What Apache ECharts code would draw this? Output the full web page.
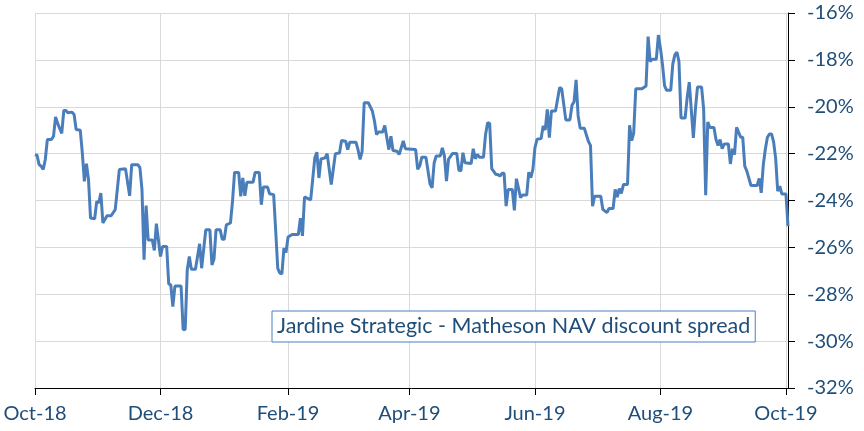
<!DOCTYPE html>
<html>
<head>
<meta charset="utf-8">
<script src="https://cdn.jsdelivr.net/npm/echarts@6/dist/echarts.min.js"></script>
<style>
  html, body { margin: 0; padding: 0; background: #fff; }
  #chart { width: 864px; height: 431px; }
</style>
</head>
<body>
<div id="chart"></div>
<script>
// discount spread
const dates = [
  '2018-10-01','2018-10-02','2018-10-03','2018-10-04','2018-10-05','2018-10-06','2018-10-07','2018-10-09','2018-10-10','2018-10-11',
  '2018-10-12','2018-10-14','2018-10-15','2018-10-16','2018-10-17','2018-10-19','2018-10-20','2018-10-21','2018-10-23','2018-10-24',
  '2018-10-25','2018-10-26','2018-10-27','2018-10-28','2018-10-30','2018-10-31','2018-11-01','2018-11-02','2018-11-03','2018-11-05',
  '2018-11-07','2018-11-09','2018-11-11','2018-11-14','2018-11-16','2018-11-17','2018-11-20','2018-11-21','2018-11-22','2018-11-23',
  '2018-11-24','2018-11-25','2018-11-27','2018-11-28','2018-11-29','2018-12-01','2018-12-02','2018-12-04','2018-12-05','2018-12-06',
  '2018-12-07','2018-12-08','2018-12-11','2018-12-12','2018-12-13','2018-12-14','2018-12-15','2018-12-16','2018-12-18','2018-12-20',
  '2018-12-21','2018-12-23','2018-12-25','2018-12-26','2018-12-27','2018-12-28','2018-12-30','2018-12-31','2019-01-01','2019-01-02',
  '2019-01-04','2019-01-05','2019-01-06','2019-01-08','2019-01-09','2019-01-10','2019-01-11','2019-01-12','2019-01-15','2019-01-16',
  '2019-01-18','2019-01-19','2019-01-20','2019-01-22','2019-01-23','2019-01-25','2019-01-26','2019-01-27','2019-01-28','2019-01-29',
  '2019-01-30','2019-01-31','2019-02-01','2019-02-03','2019-02-06','2019-02-07','2019-02-08','2019-02-09','2019-02-12','2019-02-14',
  '2019-02-15','2019-02-16','2019-02-17','2019-02-19','2019-02-20','2019-02-22','2019-02-24','2019-02-26','2019-02-27','2019-03-01',
  '2019-03-02','2019-03-03','2019-03-06','2019-03-07','2019-03-08','2019-03-09','2019-03-10','2019-03-12','2019-03-14','2019-03-15',
  '2019-03-16','2019-03-17','2019-03-19','2019-03-20','2019-03-22','2019-03-23','2019-03-24','2019-03-26','2019-03-27','2019-03-29',
  '2019-03-30','2019-04-04','2019-04-05','2019-04-06','2019-04-07','2019-04-09','2019-04-11','2019-04-12','2019-04-13','2019-04-14',
  '2019-04-16','2019-04-17','2019-04-18','2019-04-19','2019-04-20','2019-04-22','2019-04-24','2019-04-25','2019-04-26','2019-04-27',
  '2019-04-28','2019-05-01','2019-05-02','2019-05-03','2019-05-04','2019-05-05','2019-05-07','2019-05-08','2019-05-09','2019-05-10',
  '2019-05-11','2019-05-13','2019-05-14','2019-05-15','2019-05-16','2019-05-17','2019-05-18','2019-05-19','2019-05-21','2019-05-22',
  '2019-05-23','2019-05-25','2019-05-26','2019-05-28','2019-05-29','2019-05-30','2019-05-31','2019-06-01','2019-06-02','2019-06-04',
  '2019-06-05','2019-06-06','2019-06-07','2019-06-08','2019-06-09','2019-06-11','2019-06-13','2019-06-14','2019-06-16','2019-06-18',
  '2019-06-19','2019-06-20','2019-06-21','2019-06-22','2019-06-23','2019-06-25','2019-06-27','2019-06-28','2019-06-29','2019-06-30',
  '2019-07-03','2019-07-04','2019-07-06','2019-07-07','2019-07-09','2019-07-10','2019-07-11','2019-07-12','2019-07-13','2019-07-14',
  '2019-07-16','2019-07-17','2019-07-18','2019-07-19','2019-07-20','2019-07-23','2019-07-25','2019-07-26','2019-07-27','2019-07-28',
  '2019-07-30','2019-07-31','2019-08-01','2019-08-02','2019-08-03','2019-08-04','2019-08-06','2019-08-07','2019-08-08','2019-08-09',
  '2019-08-10','2019-08-11','2019-08-13','2019-08-14','2019-08-15','2019-08-17','2019-08-18','2019-08-19','2019-08-21','2019-08-22',
  '2019-08-23','2019-08-24','2019-08-25','2019-08-27','2019-08-28','2019-08-29','2019-08-30','2019-08-31','2019-09-01','2019-09-03',
  '2019-09-04','2019-09-05','2019-09-06','2019-09-07','2019-09-09','2019-09-10','2019-09-11','2019-09-12','2019-09-14','2019-09-17',
  '2019-09-18','2019-09-19','2019-09-20','2019-09-21','2019-09-22','2019-09-23','2019-09-24','2019-09-25','2019-09-26','2019-09-27',
  '2019-09-28','2019-09-29','2019-10-01','2019-10-02'
];
const spread = [
  -22.04,-22.07,-22.47,-22.54,-22.68,-22.25,-21.40,-21.40,-21.26,-20.43,
  -20.71,-21.14,-20.16,-20.16,-20.26,-20.23,-20.33,-20.97,-21.00,-21.97,
  -23.18,-22.43,-23.10,-24.75,-24.78,-24.04,-24.10,-23.68,-24.96,-24.65,
  -24.65,-24.39,-22.68,-22.65,-23.80,-22.47,-22.47,-22.60,-23.54,-26.53,
  -24.22,-25.68,-25.68,-26.13,-24.99,-26.39,-25.96,-25.96,-27.56,-27.60,
  -28.53,-27.65,-27.65,-29.50,-29.50,-26.96,-26.39,-26.93,-26.93,-25.85,
  -26.89,-25.25,-25.25,-26.75,-26.50,-25.25,-25.25,-25.65,-25.65,-25.04,
  -24.96,-24.04,-22.80,-22.80,-23.82,-23.04,-23.80,-23.22,-23.22,-22.80,
  -22.80,-24.18,-23.42,-23.42,-23.71,-23.75,-25.30,-26.90,-27.10,-27.13,
  -26.03,-26.22,-25.56,-25.45,-25.45,-24.75,-25.51,-23.85,-23.97,-22.18,
  -21.94,-23.04,-22.23,-22.18,-22.00,-23.32,-22.00,-21.97,-21.44,-21.47,
  -21.83,-21.51,-21.51,-21.83,-22.25,-21.90,-19.83,-19.83,-20.19,-20.61,
  -21.18,-21.08,-21.08,-20.80,-21.83,-21.26,-21.87,-21.90,-22.04,-21.46,
  -21.79,-21.82,-22.67,-22.53,-22.15,-22.15,-23.30,-23.46,-22.40,-22.10,
  -22.10,-21.75,-22.10,-23.17,-22.24,-21.99,-21.99,-22.70,-22.74,-21.96,
  -22.39,-22.42,-21.79,-22.22,-22.03,-22.15,-22.15,-21.18,-20.68,-20.71,
  -22.64,-22.89,-22.89,-22.96,-22.84,-22.84,-24.24,-23.53,-23.53,-24.42,
  -23.07,-23.88,-23.77,-23.77,-22.79,-23.03,-22.67,-21.75,-21.39,-21.36,
  -20.82,-20.99,-20.11,-21.32,-20.18,-20.18,-19.18,-19.23,-20.56,-20.56,
  -19.94,-19.79,-18.85,-20.39,-20.92,-20.92,-21.48,-21.65,-24.24,-23.82,
  -23.82,-24.38,-24.52,-24.34,-24.34,-23.53,-23.86,-23.49,-23.70,-23.32,
  -23.32,-20.79,-21.45,-21.12,-19.23,-19.23,-19.11,-17.01,-18.07,-17.97,
  -17.97,-16.94,-17.50,-18.20,-19.10,-19.30,-19.30,-18.18,-17.79,-17.67,
  -18.07,-20.48,-20.48,-19.60,-18.95,-21.33,-20.10,-19.16,-19.16,-20.10,
  -23.77,-20.65,-20.88,-20.88,-21.40,-21.65,-21.40,-21.79,-21.59,-21.59,
  -22.44,-21.79,-22.04,-20.88,-21.30,-21.30,-22.54,-22.75,-23.36,-23.36,
  -23.06,-23.67,-22.47,-21.80,-21.30,-21.16,-21.16,-21.50,-22.20,-23.60,
  -23.39,-23.72,-23.72,-25.09
];
const xTickDates = ['2018-10-01','2018-12-01','2019-02-01','2019-04-01','2019-06-01','2019-08-01','2019-10-01'];
const xTickLabels = ['Oct-18','Dec-18','Feb-19','Apr-19','Jun-19','Aug-19','Oct-19'];
const seriesName = 'Jardine Strategic - Matheson NAV discount spread';

const toTime = s => echarts.number.parseDate(s).getTime();
const tickTimes = xTickDates.map(toTime);
const labelColor = '#1F4E79';

const chart = echarts.init(document.getElementById('chart'));
chart.setOption({
  animation: false,
  grid: { left: 35, right: 76, top: 13, bottom: 43 },
  legend: {
    left: 272, top: 311,
    data: [{ name: seriesName, icon: 'none' }],
    itemWidth: 0, itemGap: 0,
    backgroundColor: '#fff',
    borderColor: '#4F7FBF', borderWidth: 1,
    padding: [4, 5, 4, 0],
    textStyle: { color: labelColor, fontFamily: 'Lato', fontSize: 21.5, lineHeight: 23 }
  },
  xAxis: {
    type: 'value',
    min: toTime('2018-10-01'),
    max: toTime('2019-10-02'),
    axisLine: { lineStyle: { color: '#000', width: 1 } },
    axisTick: { show: true, length: 7, customValues: tickTimes, lineStyle: { color: '#000' } },
    axisLabel: {
      customValues: tickTimes,
      color: labelColor, fontFamily: 'Lato', fontSize: 20, margin: 16,
      formatter: v => {
        const i = tickTimes.indexOf(v);
        return i >= 0 ? xTickLabels[i] : '';
      }
    },
    splitLine: { show: true, lineStyle: { color: '#D9D9D9', width: 1 } }
  },
  yAxis: {
    type: 'value',
    position: 'right',
    min: -32, max: -16, interval: 2,
    axisLine: { show: true, lineStyle: { color: '#000', width: 1 } },
    axisTick: { show: true, length: 7, lineStyle: { color: '#000' } },
    axisLabel: { formatter: '{value}%', color: labelColor, fontFamily: 'Lato', fontSize: 20, margin: 19 },
    splitLine: { show: true, lineStyle: { color: '#D9D9D9', width: 1 } }
  },
  series: [{
    name: seriesName,
    type: 'line',
    data: dates.map((d, i) => [toTime(d), spread[i]]),
    showSymbol: false,
    lineStyle: { color: '#4A7EBB', width: 3 },
    itemStyle: { color: '#4A7EBB' }
  }]
});
</script>
</body>
</html>
